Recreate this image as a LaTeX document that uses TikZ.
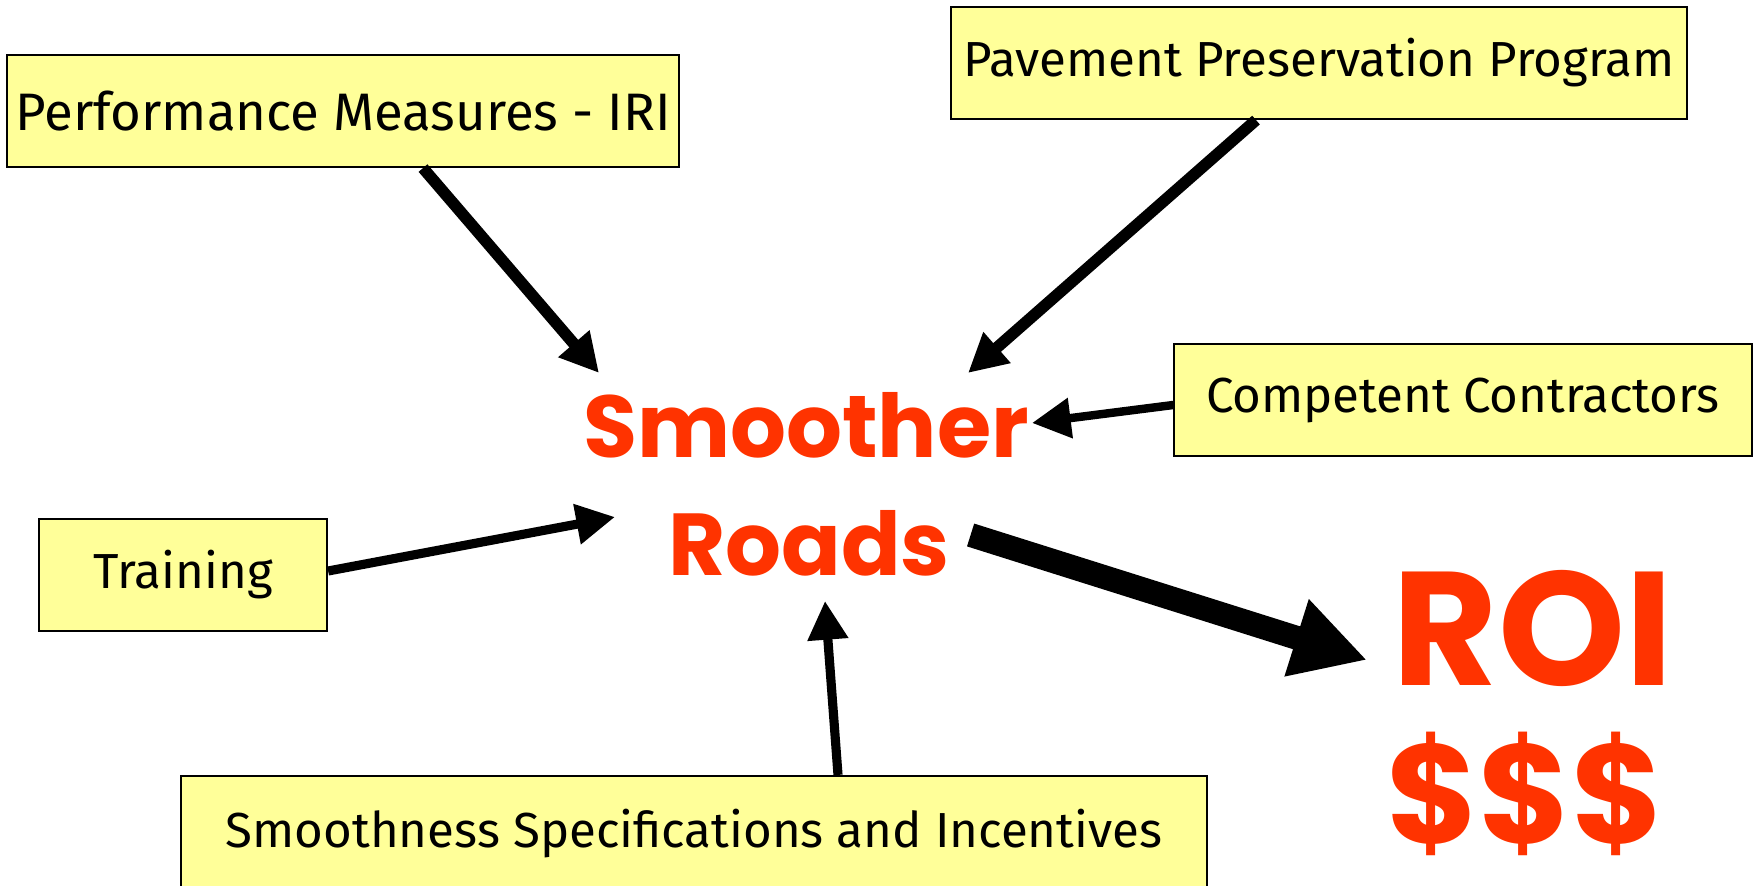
\documentclass[tikz,border=0pt]{standalone}
\usepackage{fontspec}
\setmainfont{Fira Sans}
\newfontfamily\roundfont{Poppins}
\usetikzlibrary{arrows.meta,calc,positioning}
\definecolor{notepad}{RGB}{255,255,153}
\definecolor{roadred}{RGB}{255,51,0}
\tikzset{
  factor/.style={draw=black, line width=0.6pt, fill=notepad, inner sep=0pt,
    minimum height=1.12cm, font=\fontsize{14}{16}\selectfont},
  goal/.style={text=roadred, inner sep=0pt, font=\roundfont\bfseries\fontsize{25}{30}\selectfont},
  bigroi/.style={text=roadred, inner sep=0pt, font=\roundfont\bfseries\fontsize{46}{50}\selectfont},
  feed/.style={-{Triangle[length=11pt,width=11pt]}, line width=2.6pt},
  payoff/.style={-{Triangle[length=21pt,width=21.5pt]}, line width=6.8pt},
}

\begin{document}
\begin{tikzpicture}[x=0.01cm,y=-0.01cm]
\useasboundingbox (0,0) rectangle (1755,886);

% the factors
\node[factor, minimum width=6.71cm, font=\fontsize{15}{17}\selectfont] (perf) at (343,111) {Performance Measures - IRI};
\node[factor, minimum width=7.36cm] (pave) at (1319,63) {Pavement Preservation Program};
\node[factor, minimum width=5.77cm] (comp) at (1463,400) {Competent Contractors};
\node[factor, minimum width=2.88cm] (train) at (183,575) {Training};
\node[factor, minimum width=10.25cm, minimum height=1.16cm] (spec) at (694,834) {Smoothness Specifications and Incentives};

% the goal and the payoff
\node[goal] (smoother) at (806,425) {Smoother};
\node[goal] (roads) at (809,543) {Roads};
\node[bigroi] (roi) at (1533,628) {ROI};
\node[bigroi, font=\roundfont\bfseries\fontsize{40}{44}\selectfont] (cash) at (1525,794) {\$\$\$};

\coordinate (perfTip) at (599,373);
\coordinate (paveTip) at (968,373);
\coordinate (compTip) at (1032,423);
\coordinate (trainTip) at (615,517);
\coordinate (specTip) at (825,601);
\coordinate (roiTip) at (1367,660);

\draw[feed, line width=3.3pt] ($(perf.south)+(80,0)$) -- (perfTip);
\draw[feed, line width=3.3pt] ($(pave.south)+(-63,0)$) -- (paveTip);
\draw[feed, line width=2.4pt] ($(comp.west)+(0,5)$) -- (compTip);
\draw[feed] ($(train.east)+(0,-4)$) -- (trainTip);
\draw[feed] ($(spec.north)+(144,0)$) -- (specTip);
\draw[payoff] ($(roads.east)+(20,-8)$) -- (roiTip);

\end{tikzpicture}
\end{document}
